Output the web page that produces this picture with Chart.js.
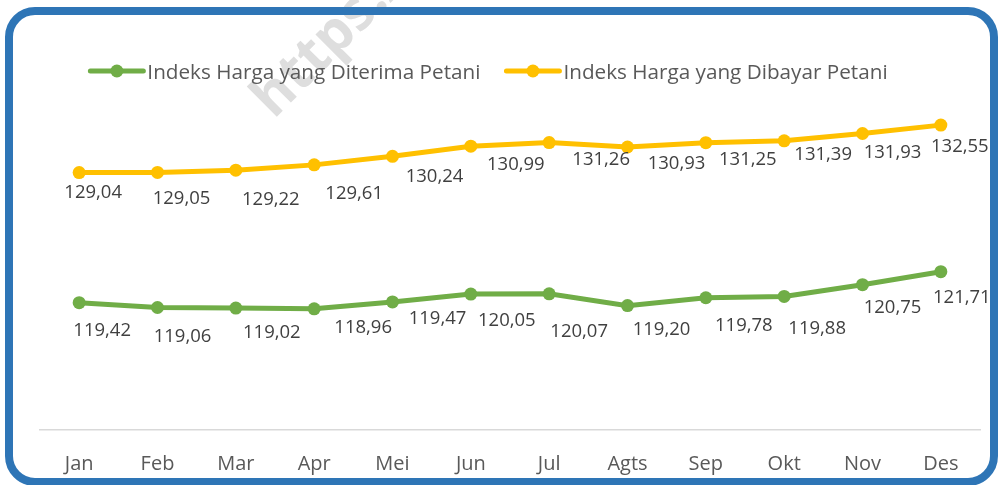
<!DOCTYPE html>
<html>
<head>
<meta charset="utf-8">
<script src="https://cdn.jsdelivr.net/npm/chart.js@4"></script>
<style>
  html, body { margin: 0; padding: 0; background: #fff; }
  #wrap { position: relative; width: 999px; height: 485px; overflow: hidden; }
  #frame {
    position: absolute; left: 5px; top: 7px; width: 993px; height: 479px;
    box-sizing: border-box; border: 8px solid #2e75b6; border-radius: 30px;
  }
  #mark {
    position: absolute; left: 285px; top: 55px;
    font: bold 56px "Open Sans", sans-serif; color: #dedede;
    transform: rotate(-45deg); transform-origin: left bottom; white-space: nowrap;
  }
  #myChart { position: absolute; left: 0; top: 0; }
</style>
</head>
<body>
<div id="wrap">
  <div id="mark">https://</div>
  <div id="frame"></div>
  <canvas id="myChart" width="999" height="485"></canvas>
</div>
<script>
"use strict";

const months = ["Jan", "Feb", "Mar", "Apr", "Mei", "Jun", "Jul", "Agts", "Sep", "Okt", "Nov", "Des"];
const diterima = [119.42, 119.06, 119.02, 118.96, 119.47, 120.05, 120.07, 119.2, 119.78, 119.88, 120.75, 121.71];
const dibayar = [129.04, 129.05, 129.22, 129.61, 130.24, 130.99, 131.26, 130.93, 131.25, 131.39, 131.93, 132.55];

// where Excel pushed each label, relative to its point
const shiftDiterima = [[23, 27], [25, 28], [36, 23], [49, 17], [45, 15], [36, 25], [30, 36], [34, 23], [38, 27], [33, 31], [30, 22], [21, 25]];
const shiftDibayar = [[14, 19], [24, 25], [35, 28], [40, 27], [42, 19], [45, 17], [52, 16], [49, 15], [42, 16], [39, 12], [30, 18], [19, 20]];

const FONT = '"Open Sans", sans-serif';

const fmt = (v) => v.toFixed(2).replace(".", ",");

const labelPlugin = {
  id: "labels",
  afterDatasetsDraw(chart) {
    const ctx = chart.ctx;
    ctx.save();
    ctx.font = "18.5px " + FONT;
    ctx.fillStyle = "#404040";
    ctx.textAlign = "center";
    ctx.textBaseline = "alphabetic";
    chart.data.datasets.forEach((ds, i) => {
      const shifts = i === 0 ? shiftDiterima : shiftDibayar;
      chart.getDatasetMeta(i).data.forEach((pt, j) => {
        ctx.fillText(fmt(ds.data[j]), pt.x + shifts[j][0], pt.y + shifts[j][1] + 6.7);
      });
    });
    ctx.restore();
  },
};

const legendPlugin = {
  id: "lineLegend",
  afterDraw(chart) {
    const ctx = chart.ctx;
    ctx.save();
    ctx.font = "20.7px " + FONT;
    const items = chart.data.datasets.map((ds) => ({
      text: ds.label,
      color: ds.borderColor,
      w: ctx.measureText(ds.label).width,
    }));
    const markW = 57, gapText = 2, gapItem = 24;
    let total = 0;
    items.forEach((it, i) => (total += markW + gapText + it.w + (i ? gapItem : 0)));
    let x = 488 - total / 2;
    const y = 71;
    items.forEach((it) => {
      ctx.strokeStyle = it.color;
      ctx.lineWidth = 5;
      ctx.lineCap = "round";
      ctx.beginPath();
      ctx.moveTo(x + 2, y);
      ctx.lineTo(x + markW - 2, y);
      ctx.stroke();
      ctx.fillStyle = it.color;
      ctx.beginPath();
      ctx.arc(x + markW / 2, y, 6.5, 0, Math.PI * 2);
      ctx.fill();
      ctx.fillStyle = "#595959";
      ctx.textBaseline = "alphabetic";
      ctx.fillText(it.text, x + markW + gapText, y + 7.5);
      x += markW + gapText + it.w + gapItem;
    });
    ctx.restore();
  },
};

new Chart("myChart", {
  type: "line",
  data: {
    labels: months,
    datasets: [
      {
        label: "Indeks Harga yang Diterima Petani",
        data: diterima,
        borderColor: "#70ad47",
        backgroundColor: "#70ad47",
        borderWidth: 5,
        pointRadius: 6.5,
        pointBorderWidth: 0,
        tension: 0,
      },
      {
        label: "Indeks Harga yang Dibayar Petani",
        data: dibayar,
        borderColor: "#ffc000",
        backgroundColor: "#ffc000",
        borderWidth: 5,
        pointRadius: 6.5,
        pointBorderWidth: 0,
        tension: 0,
      },
    ],
  },
  options: {
    responsive: false,
    animation: false,
    layout: { padding: { top: 92, left: 40, right: 19, bottom: 10 } },
    plugins: { legend: { display: false }, tooltip: { enabled: false } },
    scales: {
      x: {
        offset: true,
        grid: { display: false, drawTicks: false },
        border: { display: true, color: "#d9d9d9", width: 1.5 },
        ticks: { color: "#595959", font: { family: FONT, size: 20 }, padding: 22 },
        afterFit(scale) {
          scale.height = 45;
        },
      },
      y: { display: false, min: 110, max: 135 },
    },
  },
  plugins: [labelPlugin, legendPlugin],
});
</script>
</body>
</html>
